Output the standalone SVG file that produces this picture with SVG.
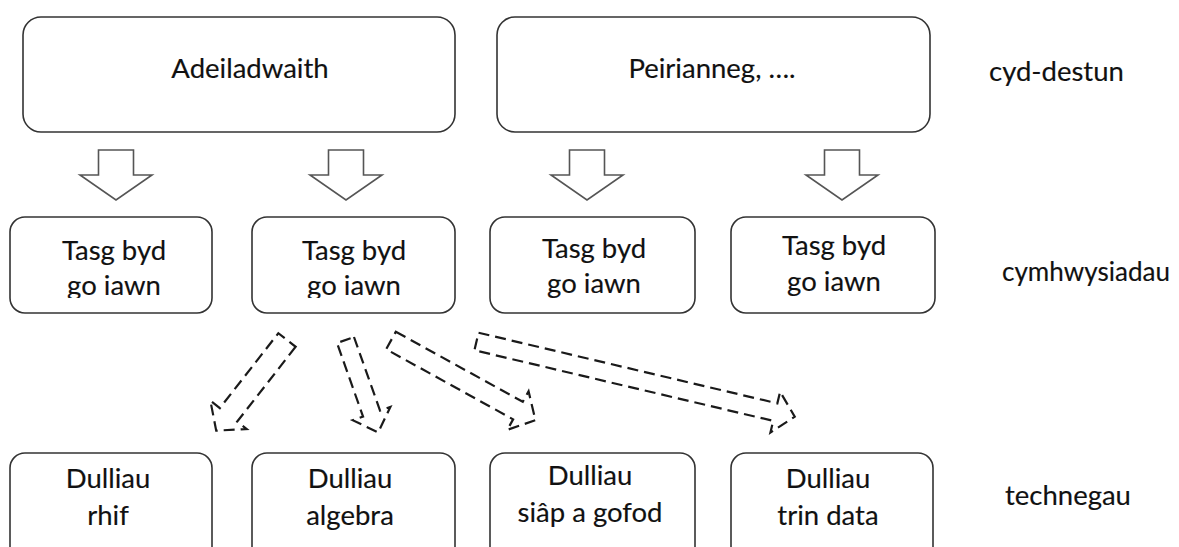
<svg xmlns="http://www.w3.org/2000/svg" width="1179" height="547" viewBox="0 0 1179 547">
  <defs>
    <style>
      .box { fill: #fff; stroke: #333; stroke-width: 1.6; }
      .txt { font-family: Lato, "Open Sans", sans-serif; font-size: 27.5px; fill: #111; stroke: #111; stroke-width: 0.15; text-anchor: middle; }
      .lbl { font-family: Lato, "Open Sans", sans-serif; font-size: 27.5px; fill: #111; stroke: #111; stroke-width: 0.15; }
      .blk { fill: #fff; stroke: #555; stroke-width: 1.6; stroke-linejoin: miter; }
      .dash { fill: none; stroke: #1a1a1a; stroke-width: 2.2; stroke-dasharray: 11 6; }
    </style>
    <!-- downward block arrow, tip at (0,0) -->
    <path id="down" d="M -17.5 -50 L 17.5 -50 L 17.5 -25 L 36 -25 L 0 0 L -36 -25 L -17.5 -25 Z"/>
    <!-- text frame for the middle row -->
    <clipPath id="midclip"><rect x="0" y="200" width="720" height="98"/></clipPath>
  </defs>

  <rect width="1179" height="547" fill="#fff"/>

  <!-- context row -->
  <g id="ctx-adeiladwaith">
    <rect class="box" x="23" y="17" width="432" height="115" rx="18"/>
    <text class="txt" x="250" y="78">Adeiladwaith</text>
  </g>
  <g id="ctx-peirianneg">
    <rect class="box" x="497" y="17" width="433" height="115" rx="18"/>
    <text class="txt" x="712" y="78">Peirianneg, ….</text>
  </g>

  <!-- connectors -->
  <g id="connectors">
    <use href="#down" class="blk" x="116" y="200"/>
    <use href="#down" class="blk" x="346" y="200"/>
    <use href="#down" class="blk" x="587" y="200"/>
    <use href="#down" class="blk" x="842" y="200"/>

    <path class="dash" transform="translate(287 340) rotate(128)" d="M 0 -11 L 95 -11 L 95 -23 L 115 0 L 95 23 L 95 11 L 0 11 Z"/>
    <path class="dash" transform="translate(345.5 340) rotate(70.5)" d="M 0 -9 L 78 -9 L 78 -20 L 98 0 L 78 20 L 78 9 L 0 9 Z"/>
    <path class="dash" transform="translate(391 340.5) rotate(28.9)" d="M 0 -10 L 145 -10 L 145 -22 L 165 0 L 145 22 L 145 10 L 0 10 Z"/>
    <path class="dash" transform="translate(476.5 341.5) rotate(13.3)" d="M 0 -9 L 307 -9 L 307 -21 L 327 0 L 307 21 L 307 9 L 0 9 Z"/>
  </g>

  <!-- task row -->
  <g id="task-1">
    <rect class="box" x="10" y="217" width="202" height="96" rx="15"/>
    <g clip-path="url(#midclip)">
      <text class="txt" x="114" y="260">Tasg byd</text>
      <text class="txt" x="114" y="295">go iawn</text>
    </g>
  </g>
  <g id="task-2">
    <rect class="box" x="252" y="217" width="203" height="96" rx="15"/>
    <g clip-path="url(#midclip)">
      <text class="txt" x="354" y="260">Tasg byd</text>
      <text class="txt" x="354" y="295">go iawn</text>
    </g>
  </g>
  <g id="task-3">
    <rect class="box" x="490" y="217" width="205" height="96" rx="15"/>
    <g clip-path="url(#midclip)">
      <text class="txt" x="594" y="258">Tasg byd</text>
      <text class="txt" x="594" y="293">go iawn</text>
    </g>
  </g>
  <g id="task-4">
    <rect class="box" x="731" y="217" width="204" height="96" rx="15"/>
    <text class="txt" x="834" y="255">Tasg byd</text>
    <text class="txt" x="834" y="291">go iawn</text>
  </g>

  <!-- technique row -->
  <g id="tech-rhif">
    <rect class="box" x="10" y="453" width="202" height="120" rx="15"/>
    <text class="txt" x="108" y="488">Dulliau</text>
    <text class="txt" x="108" y="525">rhif</text>
  </g>
  <g id="tech-algebra">
    <rect class="box" x="252" y="453" width="203" height="120" rx="15"/>
    <text class="txt" x="350" y="488">Dulliau</text>
    <text class="txt" x="350" y="525">algebra</text>
  </g>
  <g id="tech-siap">
    <rect class="box" x="490" y="453" width="205" height="120" rx="15"/>
    <text class="txt" x="590" y="485">Dulliau</text>
    <text class="txt" x="590" y="522">siâp a gofod</text>
  </g>
  <g id="tech-data">
    <rect class="box" x="731" y="453" width="202" height="120" rx="15"/>
    <text class="txt" x="828" y="488">Dulliau</text>
    <text class="txt" x="828" y="525">trin data</text>
  </g>

  <!-- row labels -->
  <text class="lbl" x="989" y="81">cyd-destun</text>
  <text class="lbl" x="1002" y="281" textLength="168" lengthAdjust="spacingAndGlyphs">cymhwysiadau</text>
  <text class="lbl" x="1005" y="505">technegau</text>
</svg>
